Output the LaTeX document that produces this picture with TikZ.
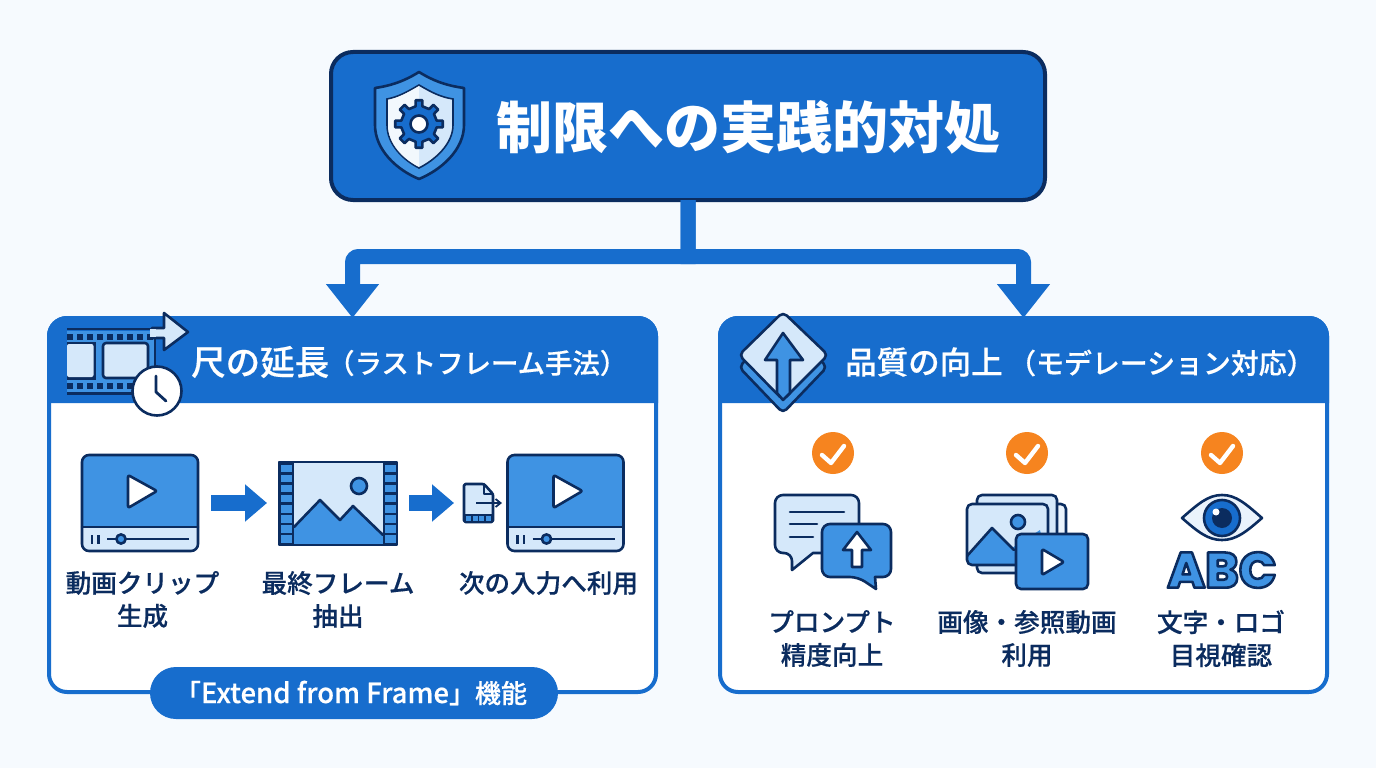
\documentclass[tikz,border=0pt]{standalone}
\usepackage{fontspec}
\usetikzlibrary{arrows.meta,calc}
\setmainfont{Noto Sans CJK JP}
\newfontfamily\jpmed[FakeBold=0.4]{Noto Sans CJK JP Medium}
\newfontfamily\abcfont{Poppins ExtraBold}
\definecolor{bg}{HTML}{F6FAFE}
\definecolor{mainb}{HTML}{176DCD}
\definecolor{navy}{HTML}{0B2C5F}
\definecolor{midb}{HTML}{3F93E3}
\definecolor{lightb}{HTML}{D5E8FA}
\definecolor{paleb}{HTML}{EAF3FC}
\definecolor{orng}{HTML}{F6841F}
\tikzset{
  ink/.style={draw=navy,line width=2.6pt,line join=round,line cap=round},
  ghost/.style={inner sep=0pt,outer sep=0pt,minimum width=#1},
  titlebox/.style={draw=navy,fill=mainb,line width=4pt,rounded corners=22pt,minimum width=714pt,minimum height=148pt,inner sep=0pt,outer sep=0pt},
  panelbox/.style={draw=mainb,fill=white,line width=4pt,rounded corners=18pt,minimum width=607pt,minimum height=374pt,inner sep=0pt,outer sep=0pt},
  conn/.style={draw=mainb,line width=15pt,-{Triangle[length=34pt,width=51pt]}},
  fat/.style={draw=mainb,line width=16pt,-{Triangle[length=22pt,width=36pt]}},
  caption/.style={text=navy,font=\jpmed\fontsize{25.6}{33}\selectfont,align=center,inner sep=0pt},
  headtext/.style={text=white,anchor=west,inner sep=0pt},
  pill/.style={fill=mainb,rounded corners=26pt,minimum width=408pt,minimum height=52pt,inner sep=0pt,text=white,font=\jpmed\fontsize{26}{28}\selectfont},
  okcircle/.style={circle,fill=orng,minimum size=42pt,inner sep=0pt},
}
\newcommand{\videoicon}[1]{%
\begin{scope}[shift={(#1,0)}]
  \fill[midb,rounded corners=7pt] (82,455)--(82,535)--(198,535)--(198,455)--cycle;
  \fill[lightb] (82,527) [rounded corners=7pt] -- (82,551)--(198,551) [sharp corners] --(198,527)--cycle;
  \draw[ink,rounded corners=7pt] (82,455) rectangle (198,551);
  \draw[ink] (82,527)--(198,527);
  \draw[ink,fill=white,rounded corners=2pt] (128,475)--(157,491)--(128,508)--cycle;
  \draw[navy,line width=2.8pt] (92,535)--(92,544) (98.5,535)--(98.5,544);
  \draw[navy,line width=2.6pt] (107,539)--(189,539);
  \draw[ink,fill=midb] (121,539) circle (4.6);
\end{scope}}
\begin{document}
\begin{tikzpicture}[x=1pt,y=-1pt]
\useasboundingbox (0,0) rectangle (1376,768);
\fill[bg] (0,0) rectangle (1376,768);

% title
\node[titlebox] (title) at (688,126) {};
\node[text=white,font=\bfseries\fontsize{56}{60}\selectfont,inner sep=0pt] (titletext) at (748,127) {制限への実践的対処};
% shield
\draw[ink,fill=midb] (419,72) .. controls (403,82) and (389,86) .. (375,88) -- (375,125) .. controls (375,150) and (397,170) .. (419,179) .. controls (441,170) and (464,150) .. (464,125) -- (464,88) .. controls (449,86) and (435,82) .. (419,72) -- cycle;
\draw[navy,line width=1.6pt,fill=lightb] (419,85) .. controls (407,92) and (398,97) .. (387,99) -- (387,125) .. controls (387,144) and (403,160) .. (419,168) .. controls (435,160) and (453,144) .. (453,125) -- (453,99) .. controls (440,97) and (431,92) .. (419,85) -- cycle;
\fill[white,opacity=.7] (419,86) .. controls (407,93) and (398,98) .. (388,100) -- (388,125) .. controls (388,144) and (403,159) .. (419,167) -- cycle;
\begin{scope}[shift={(419,124)}]
  \draw[ink,fill=mainb] (-11:18) \foreach \a in {0,45,...,315} { -- (\a-11:18) -- (\a-8:24) -- (\a+8:24) -- (\a+11:18)} -- cycle;
  \draw[ink,fill=white] (0,0) circle (8.5);
\end{scope}

% panels
\node[panelbox] (panelL) at (352.5,505) {};
\node[panelbox] (panelR) at (1023.5,505) {};
\fill[mainb] (47,403) [rounded corners=20pt] -- (47,316) -- (658,316) [sharp corners] -- (658,403) -- cycle;
\fill[mainb] (718,403) [rounded corners=20pt] -- (718,316) -- (1329,316) [sharp corners] -- (1329,403) -- cycle;

% connectors
\draw[conn] (title.south) -- ++(0,56.5) [rounded corners=6pt] -| (panelL.north);
\draw[conn] (title.south) -- ++(0,56.5) [rounded corners=6pt] -| (panelR.north);

% left header icon
\fill[midb] (67,331) rectangle (155,393);
\draw[navy,line width=2.4pt] (67,329)--(155,329) (67,393.5)--(155,393.5) (155,329)--(155,393);
\foreach \i in {0,...,8} {
  \fill[navy] (67+\i*10,333.5) rectangle ++(6,6);
  \fill[navy] (67+\i*10,383) rectangle ++(6,6);
}
\fill[navy] (67,341.5) rectangle (96,379.5);
\fill[lightb,rounded corners=2pt] (67,344) rectangle (93.5,377);
\draw[ink,fill=lightb,rounded corners=3pt] (103,343) rectangle (148,378);
\draw[ink,fill=lightb] (152,328) -- (164,328) -- (164,313) -- (188,332) -- (164,350) -- (164,338) -- (152,338);
\fill[lightb] (150,329.4) rectangle (156,336.6);
\draw[ink,fill=white] (157,391) circle (24.5);
\draw[navy,line width=2.8pt,line cap=round,line join=round] (156,376)--(156,392)--(166,401);
\node[headtext,font=\jpmed\fontsize{34.5}{36}\selectfont] (headL) at (191,362) {尺の延長};
\node[headtext,font=\jpmed\fontsize{27.4}{30}\selectfont] (subL) at (327,363) {（ラストフレーム手法）};

% right header icon
\draw[ink,fill=midb,rounded corners=5pt] (739,367) -- (783,413) -- (827,367) -- (783,322) -- cycle;
\draw[ink,fill=lightb,rounded corners=5pt] (739,355) -- (783,312) -- (828,355) -- (783,400) -- cycle;
\draw[ink,fill=midb] (783,333) -- (803,360) -- (790,360) -- (790,393) -- (783,400) -- (777,393) -- (777,360) -- (765,360) -- cycle;
\node[headtext,font=\jpmed\fontsize{31.5}{36}\selectfont] (headR) at (845,362) {品質の向上};
\node[headtext,font=\jpmed\fontsize{27.9}{30}\selectfont] (subR) at (1008,363) {（モデレーション対応）};

% left process
\videoicon{0}
\videoicon{425.5}
\node[ghost=117pt,minimum height=96pt] (clipA) at (140.5,503) {};
\node[ghost=118pt,minimum height=84pt] (frameA) at (338,503) {};
\node[ghost=29pt,minimum height=38pt] (docA) at (478.5,503) {};
% frame icon
\fill[lightb] (279,462) rectangle (397,545);
\fill[midb] (294,527) -- (320,500) -- (340,520) -- (353,506) -- (383,535) -- (383,545) -- (294,545) -- cycle;
\draw[ink] (294,527) -- (320,500) -- (340,520) -- (353,506) -- (383,535);
\draw[ink,fill=midb] (359,486) circle (8);
\fill[navy] (279,462) rectangle (294,545);
\fill[navy] (383,462) rectangle (397,545);
\foreach \i in {0,...,7} {
  \fill[midb] (281,464.5+\i*10.1) rectangle ++(11,7.6);
  \fill[midb] (385,464.5+\i*10.1) rectangle ++(10.5,7.6);
}
\draw[ink] (279,462) rectangle (397,545);
\draw[fat] ([xshift=12pt]clipA.east) -- ([xshift=-12pt]frameA.west);
\draw[fat] ([xshift=12pt]frameA.east) -- ([xshift=-10pt]docA.west);
% doc icon
\draw[ink,fill=lightb,rounded corners=1.5pt] (464,484) -- (484,484) -- (493,494) -- (493,522) -- (464,522) -- cycle;
\draw[ink] (484,484) -- (484,494) -- (493,494);
\fill[navy] (464,514) rectangle (493,522);
\foreach \i in {0,1,2,3} { \fill[midb] (466+\i*6.5,515.5) rectangle ++(5,5); }
\draw[navy,line width=1.8pt,-{Straight Barb[length=5pt,width=8pt]}] (476,503) -- (502,503);

\node[caption] (cap1) at (142.5,599.5) {動画クリップ\\生成};
\node[caption] (cap2) at (338,599.5) {最終フレーム\\抽出};
\node[caption] (cap3) at (548.5,583) {次の入力へ利用};
\node[pill] (pillnode) at (354,693) {};
\node[text=white,inner sep=0pt,font=\jpmed\fontsize{26}{28}\selectfont] (pilltext) at (351,693) {「{\fontsize{27.5}{28}\selectfont Extend from Frame}」機能};

% right column: checks
\foreach \n/\x in {a/833,b/1027,c/1222} {
  \node[okcircle] (ok\n) at (\x,453) {};
  \draw[white,line width=4.4pt,line cap=round,line join=round] (\x-11,455) -- (\x-2,463) -- (\x+11,446);
}
% chat icon
\draw[ink,fill=lightb] (813,553) [rounded corners=8pt] -- (859,553) -- (859,495) -- (775,495) -- (775,553) -- (792,553) [sharp corners] -- (792,570) -- cycle;
\draw[navy,line width=2.6pt,line cap=round] (790,512)--(844,512) (790,524)--(817,524) (790,537)--(813,537);
\draw[ink,fill=midb] (875,577) [rounded corners=8pt] -- (891,577) -- (891,524) -- (822,524) -- (822,577) -- (858,577) [sharp corners] -- (876,589) -- cycle;
\draw[ink,fill=white] (857,532) -- (871,550) -- (862,550) -- (862,567) -- (852,567) -- (852,550) -- (843,550) -- cycle;
% media icon
\draw[ink,fill=paleb,rounded corners=5pt] (1040,504) -- (1066,504) -- (1066,565) -- (1040,565);
\draw[ink,fill=lightb,rounded corners=5pt] (977,495) rectangle (1057,573);
\fill[lightb,rounded corners=5pt] (967,504) rectangle (1048,565);
\begin{scope}
  \clip[rounded corners=5pt] (967,504) rectangle (1048,565);
  \fill[midb] (967,556) -- (992,528) -- (1012,548) -- (1040,530) -- (1048,565) -- (967,565) -- cycle;
  \draw[ink] (967,556) -- (992,528) -- (1014,550);
\end{scope}
\draw[ink,rounded corners=5pt] (967,504) rectangle (1048,565);
\draw[ink,fill=midb] (1018,522) circle (7);
\draw[ink,fill=midb,rounded corners=5pt] (1016,534) rectangle (1088,589);
\draw[ink,fill=white,rounded corners=1.5pt] (1042,549) -- (1064,562) -- (1042,575) -- cycle;
% eye icon
\draw[ink,fill=paleb] (1182,518) .. controls (1198,504) and (1208,495) .. (1222,495) .. controls (1236,495) and (1246,504) .. (1262,518) .. controls (1246,532) and (1236,540) .. (1222,540) .. controls (1208,540) and (1198,532) .. (1182,518) -- cycle;
\draw[ink,fill=mainb] (1222,518) circle (18);
\fill[navy] (1222,518) circle (10);
\fill[white] (1216,512) circle (3.5);
\node[inner sep=0pt,text=midb,font=\abcfont\fontsize{50}{50}\selectfont] (abc) at (1222,570)
  {\special{pdf:code 2 Tr 2.6 w 1 j 0.043 0.173 0.373 RG}ABC\special{pdf:code 0 Tr}};

\node[caption] (cap4) at (832,638.5) {プロンプト\\精度向上};
\node[caption] (cap5) at (1027,638.5) {画像・参照動画\\利用};
\node[caption] (cap6) at (1221,638.5) {文字・ロゴ\\目視確認};
\end{tikzpicture}
\end{document}
